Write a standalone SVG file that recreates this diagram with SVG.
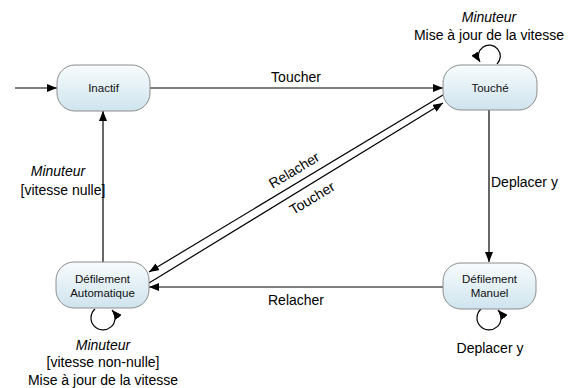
<svg xmlns="http://www.w3.org/2000/svg" width="573" height="388" viewBox="0 0 573 388">
<defs>
<linearGradient id="g" x1="0" y1="0" x2="0" y2="1">
<stop offset="0" stop-color="#f7fbfd"/>
<stop offset="1" stop-color="#cfe4ee"/>
</linearGradient>
<marker id="a" markerUnits="userSpaceOnUse" markerWidth="10" markerHeight="8" refX="10" refY="4" orient="auto">
<path d="M0,0 L10,4 L0,8 z" fill="#000"/>
</marker>
</defs>
<style>
.n{fill:url(#g);stroke:#8c8c8c;stroke-width:1}
.nt{font-family:"Liberation Sans",Arial,sans-serif;font-size:11.5px;text-anchor:middle;fill:#111}
.c{fill:none;stroke:#000;stroke-width:1.2;marker-end:url(#a)}
.l{font-family:"Liberation Sans",Arial,sans-serif;font-size:14px;fill:#000}
.m{text-anchor:middle}
.i{font-style:italic}
</style>
<g id="connectors">
<line class="c" x1="15" y1="88" x2="57" y2="88"/>
<line class="c" x1="150" y1="88" x2="443" y2="88"/>
<line class="c" x1="489" y1="110" x2="489" y2="262"/>
<line class="c" x1="443" y1="287" x2="149" y2="287"/>
<line class="c" x1="103" y1="262" x2="103" y2="111"/>
<line class="c" x1="443" y1="95" x2="149" y2="272"/>
<line class="c" x1="149" y1="283" x2="443" y2="103"/>
<path class="c" d="M497,64 A11,11 0 1 0 480,62"/>
<path class="c" d="M95,309 A12,12 0 1 0 112,310"/>
<path class="c" d="M481,309 A12,12 0 1 0 498,310"/>
<text class="l m" x="296" y="82">Toucher</text>
<text class="l" x="491" y="187">Deplacer y</text>
<text class="l m" x="296" y="305">Relacher</text>
<text class="l m i" x="58" y="176">Minuteur</text>
<text class="l m" x="63" y="195">[vitesse nulle]</text>
<text class="l m" transform="translate(294,170) rotate(-31)" y="5">Relacher</text>
<text class="l m" transform="translate(312,198) rotate(-31)" y="5">Toucher</text>
<text class="l m i" x="489" y="22">Minuteur</text>
<text class="l m" x="489" y="40">Mise à jour de la vitesse</text>
<text class="l m i" x="103" y="350">Minuteur</text>
<text class="l m" x="103" y="367">[vitesse non-nulle]</text>
<text class="l m" x="103" y="385">Mise à jour de la vitesse</text>
<text class="l m" x="490" y="353">Deplacer y</text>
</g>
<g id="inactif">
<rect class="n" x="57" y="65" width="93" height="46" rx="18"/>
<text class="nt" x="103.5" y="92">Inactif</text>
</g>
<g id="touche">
<rect class="n" x="443" y="65" width="94" height="45" rx="18"/>
<text class="nt" x="490" y="92">Touché</text>
</g>
<g id="defilement-automatique">
<rect class="n" x="56" y="262" width="93" height="46" rx="18"/>
<text class="nt" x="102.5" y="283">Défilement</text>
<text class="nt" x="102.5" y="297">Automatique</text>
</g>
<g id="defilement-manuel">
<rect class="n" x="443" y="263" width="93" height="46" rx="18"/>
<text class="nt" x="489.5" y="283">Défilement</text>
<text class="nt" x="489.5" y="297">Manuel</text>
</g>
</svg>
